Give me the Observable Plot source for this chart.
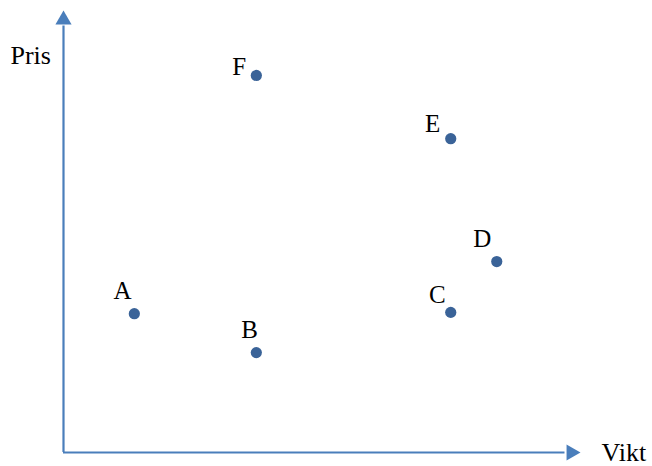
<!DOCTYPE html>
<html>
<head>
<meta charset="utf-8">
<script src="https://cdn.jsdelivr.net/npm/d3@7"></script>
<script src="https://cdn.jsdelivr.net/npm/@observablehq/plot@0.6"></script>
<style>
  html, body { margin: 0; padding: 0; background: #fff; }
</style>
</head>
<body>
<div id="chart"></div>
<script>
// Data (arbitrary units, axis origin at 0, axis ends at 10)
const names  = ["A", "B", "C", "D", "E", "F"];
const weight = [1.37, 3.73, 7.49, 8.38, 7.49, 3.73];   // Vikt
const price  = [3.14, 2.26, 3.17, 4.32, 7.10, 8.53];   // Pris
const labelX = [1.14, 3.60, 7.23, 8.10, 7.14, 3.40];
const labelY = [3.64, 2.76, 3.55, 4.80, 7.42, 8.71];
const axisTitles = ["Vikt", "Pris"];

const points = names.map((n, i) => ({name: n, x: weight[i], y: price[i], lx: labelX[i], ly: labelY[i]}));

const axisColor = "#4a7ebb";
const dotColor = "#3a6398";
const font = "'Liberation Serif', 'DejaVu Serif', serif";

const chart = Plot.plot({
  width: 652,
  height: 466,
  marginLeft: 63,
  marginRight: 72,
  marginTop: 10,
  marginBottom: 14,
  x: {domain: [0, 10], axis: null},
  y: {domain: [0, 10], axis: null},
  style: {fontFamily: font, background: "#fff", overflow: "visible"},
  marks: [
    // axis lines
    Plot.ruleY([0], {x1: 0, x2: 9.7, stroke: axisColor, strokeWidth: 2.2}),
    Plot.ruleX([0], {y1: 0, y2: 9.65, stroke: axisColor, strokeWidth: 2.2}),
    // arrow heads
    Plot.dot([{x: 0, y: 10}], {x: "x", y: "y", symbol: "triangle", r: 6, fill: axisColor, stroke: "none", dy: 9.3}),
    Plot.dot([{x: 10, y: 0}], {x: "x", y: "y", symbol: "triangle", r: 6, rotate: 90, fill: axisColor, stroke: "none", dx: -9.3}),
    // axis titles
    Plot.text([axisTitles[1]], {x: 0, y: 10, dx: -53, dy: 45, text: d => d, textAnchor: "start", fontSize: 26, fill: "#000"}),
    Plot.text([axisTitles[0]], {x: 10, y: 0, dx: 21, dy: 0, text: d => d, textAnchor: "start", fontSize: 26, fill: "#000"}),
    // points
    Plot.dot(points, {x: "x", y: "y", r: 5.6, fill: dotColor, stroke: "none"}),
    Plot.text(points, {x: "lx", y: "ly", text: "name", fontSize: 25, fill: "#000", textAnchor: "middle", lineAnchor: "middle", dy: -1})
  ]
});

document.getElementById("chart").appendChild(chart);
</script>
</body>
</html>
